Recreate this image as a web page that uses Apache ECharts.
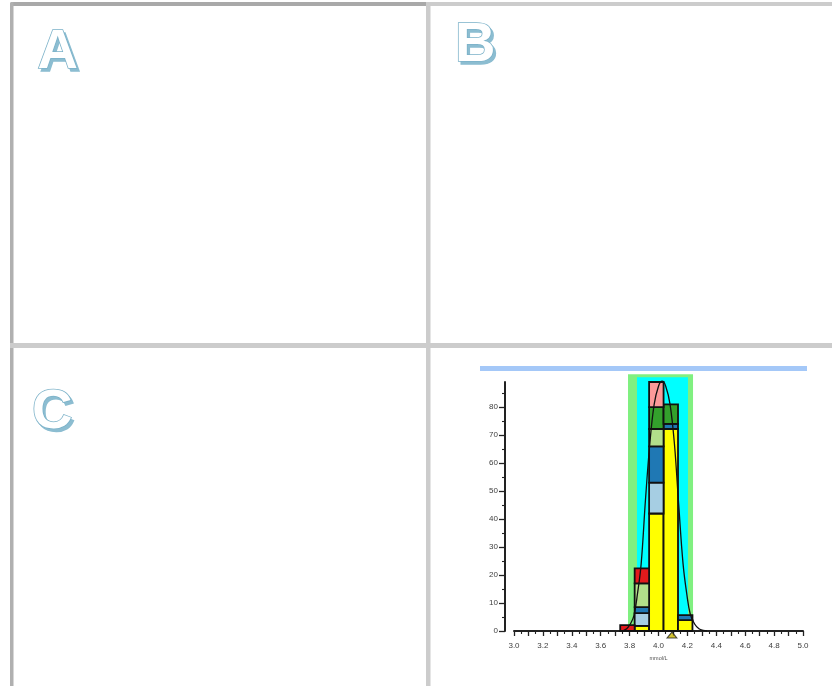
<!DOCTYPE html>
<html>
<head>
<meta charset="utf-8">
<script src="https://cdn.jsdelivr.net/npm/echarts@6/dist/echarts.min.js"></script>
<style>
  html, body { margin: 0; padding: 0; background: #fff; }
  #c { width: 832px; height: 686px; }
</style>
</head>
<body>
<div id="c"></div>
<script>
// Histogram bin edges (mmol/L)
const binEdges = [3.735, 3.835, 3.935, 4.035, 4.135, 4.235];

// Stacked counts per bin, listed from the bottom of the stack to the top
const yellowCounts     = [0,   1.8, 42,  72.2, 3.9];
const lightBlueCounts  = [0,   4.6, 11,  0,    0];
const blueCounts       = [0,   2.1, 13,  1.8,  1.8];
const lightGreenCounts = [0,   8.5, 6.2, 0,    0];
const greenCounts      = [0,   0,   7.8, 7,    0];
const pinkCounts       = [0,   0,   9,   0,    0];
const redCounts        = [2.1, 5.4, 0,   0,    0];

// Shaded ranges: [from, to, top]
const outerBand = [3.789, 4.239, 91.8];
const innerBand = [3.851, 4.204, 90.7];

// Fitted density curve
const curveX = [3.75, 3.78, 3.805, 3.83, 3.855, 3.88, 3.91, 3.94, 3.97, 4.00, 4.025, 4.05, 4.08, 4.11, 4.14, 4.17, 4.195, 4.22, 4.25, 4.28, 4.31, 4.335];
const curveY = [0,    0.8,  2.5,   5.5,  13.5,  24,   47,   67,   81,   87.5, 89.3,  87.5, 81,   67,   45,   24,   13.5,  6,    2.5,  0.8,  0.2,  0];

// Mean marker on the x axis
const meanValue = 4.093;

// Axis tick values
const yLabelValues = [0, 10, 20, 30, 40, 50, 60, 70, 80];
const xLabelValues = [3.0, 3.2, 3.4, 3.6, 3.8, 4.0, 4.2, 4.4, 4.6, 4.8, 5.0];

const stackLayers = [
  { name: 'yellow',     color: '#ffff00', counts: yellowCounts },
  { name: 'lightBlue',  color: '#a6cee3', counts: lightBlueCounts },
  { name: 'blue',       color: '#1f78b4', counts: blueCounts },
  { name: 'lightGreen', color: '#b2df8a', counts: lightGreenCounts },
  { name: 'green',      color: '#33a02c', counts: greenCounts },
  { name: 'pink',       color: '#fb9a99', counts: pinkCounts },
  { name: 'red',        color: '#e31a1c', counts: redCounts }
];

const chart = echarts.init(document.getElementById('c'), null, { renderer: 'canvas' });

// Build the stacked rectangles layer by layer
const base = binEdges.slice(0, -1).map(() => 0);
const barSeries = stackLayers.map(layer => {
  const data = [];
  layer.counts.forEach((v, i) => {
    if (v > 0) data.push([binEdges[i], binEdges[i + 1], base[i], base[i] + v]);
    base[i] += v;
  });
  return {
    type: 'custom',
    name: layer.name,
    z: 3,
    clip: false,
    data,
    encode: { x: [0, 1], y: [2, 3] },
    renderItem: (params, api) => {
      const p0 = api.coord([api.value(0), api.value(2)]);
      const p1 = api.coord([api.value(1), api.value(3)]);
      return {
        type: 'rect',
        shape: { x: p0[0], y: p1[1], width: p1[0] - p0[0], height: p0[1] - p1[1] },
        style: { fill: layer.color, stroke: '#111', lineWidth: 1.8 }
      };
    }
  };
});

function bandSeries(band, color, z) {
  return {
    type: 'custom',
    z,
    clip: false,
    silent: true,
    data: [band],
    encode: { x: [0, 1], y: 2 },
    renderItem: (params, api) => {
      const p0 = api.coord([api.value(0), 0]);
      const p1 = api.coord([api.value(1), api.value(2)]);
      return {
        type: 'rect',
        shape: { x: p0[0], y: p1[1], width: p1[0] - p0[0], height: p0[1] - p1[1] },
        style: { fill: color }
      };
    }
  };
}

// Outlined panel letters with a blue drop shadow
function panelLetter(ch, x, y) {
  const font = 'bold 56px "Liberation Sans", Arial, sans-serif';
  return [
    { type: 'text', x: x + 2.5, y: y + 2.5, z: 10,
      style: { text: ch, font, fill: '#8cbdd1', stroke: '#8cbdd1', lineWidth: 1.5, textVerticalAlign: 'top' } },
    { type: 'text', x, y, z: 11,
      style: { text: ch, font, fill: '#ffffff', stroke: '#7cb2c9', lineWidth: 1.6, textVerticalAlign: 'top' } }
  ];
}

const frame = [
  // outer frame (top and left)
  { type: 'rect', z: 20, shape: { x: 10, y: 2, width: 417, height: 4, r: [2, 0, 0, 0] }, style: { fill: '#a9a9a9' } },
  { type: 'rect', z: 20, shape: { x: 427, y: 2, width: 405, height: 4 }, style: { fill: '#cccccc' } },
  { type: 'rect', z: 20, shape: { x: 10, y: 2, width: 3.5, height: 684, r: [2, 0, 0, 0] }, style: { fill: '#b0b0b0' } },
  // inner dividers
  { type: 'rect', z: 20, shape: { x: 426, y: 2, width: 4.5, height: 684 }, style: { fill: '#cccccc' } },
  { type: 'rect', z: 20, shape: { x: 10, y: 343, width: 822, height: 5 }, style: { fill: '#cccccc' } },
  // bar across the top of the chart panel
  { type: 'rect', z: 2, shape: { x: 480, y: 366, width: 327, height: 5 }, style: { fill: '#a4c8f8' } }
];

const option = {
  backgroundColor: '#ffffff',
  animation: false,
  graphic: [].concat(
    frame,
    panelLetter('A', 37.5, 25),
    panelLetter('B', 455, 18),
    panelLetter('C', 32, 385)
  ),
  grid: { left: 514, right: 29, top: 382, bottom: 55, containLabel: false },
  xAxis: {
    type: 'value',
    min: 3.0,
    max: 5.0,
    interval: 0.1,
    offset: 3,
    name: 'mmol/L',
    nameLocation: 'middle',
    nameGap: 21,
    nameTextStyle: { fontSize: 5.5, color: '#555', fontFamily: 'Liberation Sans' },
    axisLine: { show: true, lineStyle: { color: '#222', width: 2 } },
    axisTick: { show: true, length: 5, inside: false, lineStyle: { color: '#222', width: 1.3 } },
    minorTick: { show: true, splitNumber: 2, length: 3, lineStyle: { color: '#222', width: 1.1 } },
    axisLabel: {
      customValues: xLabelValues,
      formatter: v => v.toFixed(1),
      fontSize: 8, color: '#404040', margin: 8, fontFamily: 'Liberation Sans'
    },
    splitLine: { show: false }
  },
  yAxis: {
    type: 'value',
    min: 0,
    max: 89,
    interval: 10,
    offset: 9,
    axisLine: { show: true, lineStyle: { color: '#222', width: 2 } },
    axisTick: { show: true, customValues: yLabelValues, length: 6, lineStyle: { color: '#222', width: 1.3 } },
    minorTick: { show: true, splitNumber: 2, length: 3, lineStyle: { color: '#222', width: 1.1 } },
    axisLabel: {
      customValues: yLabelValues,
      fontSize: 8, color: '#404040', margin: 7, fontFamily: 'Liberation Sans'
    },
    splitLine: { show: false }
  },
  series: [
    bandSeries(outerBand, '#80f080', 1),
    bandSeries(innerBand, '#00ffff', 2)
  ].concat(barSeries, [
    {
      type: 'line',
      z: 5,
      smooth: 0.4,
      symbol: 'none',
      clip: false,
      data: curveX.map((x, i) => [x, curveY[i]]),
      lineStyle: { color: '#111', width: 1.3 }
    },
    {
      type: 'scatter',
      z: 6,
      clip: false,
      symbol: 'triangle',
      symbolSize: [10, 6],
      symbolOffset: [0, 4],
      data: [[meanValue, 0]],
      itemStyle: { color: '#c8b400', borderColor: '#222', borderWidth: 1 }
    }
  ])
};

chart.setOption(option);
</script>
</body>
</html>
